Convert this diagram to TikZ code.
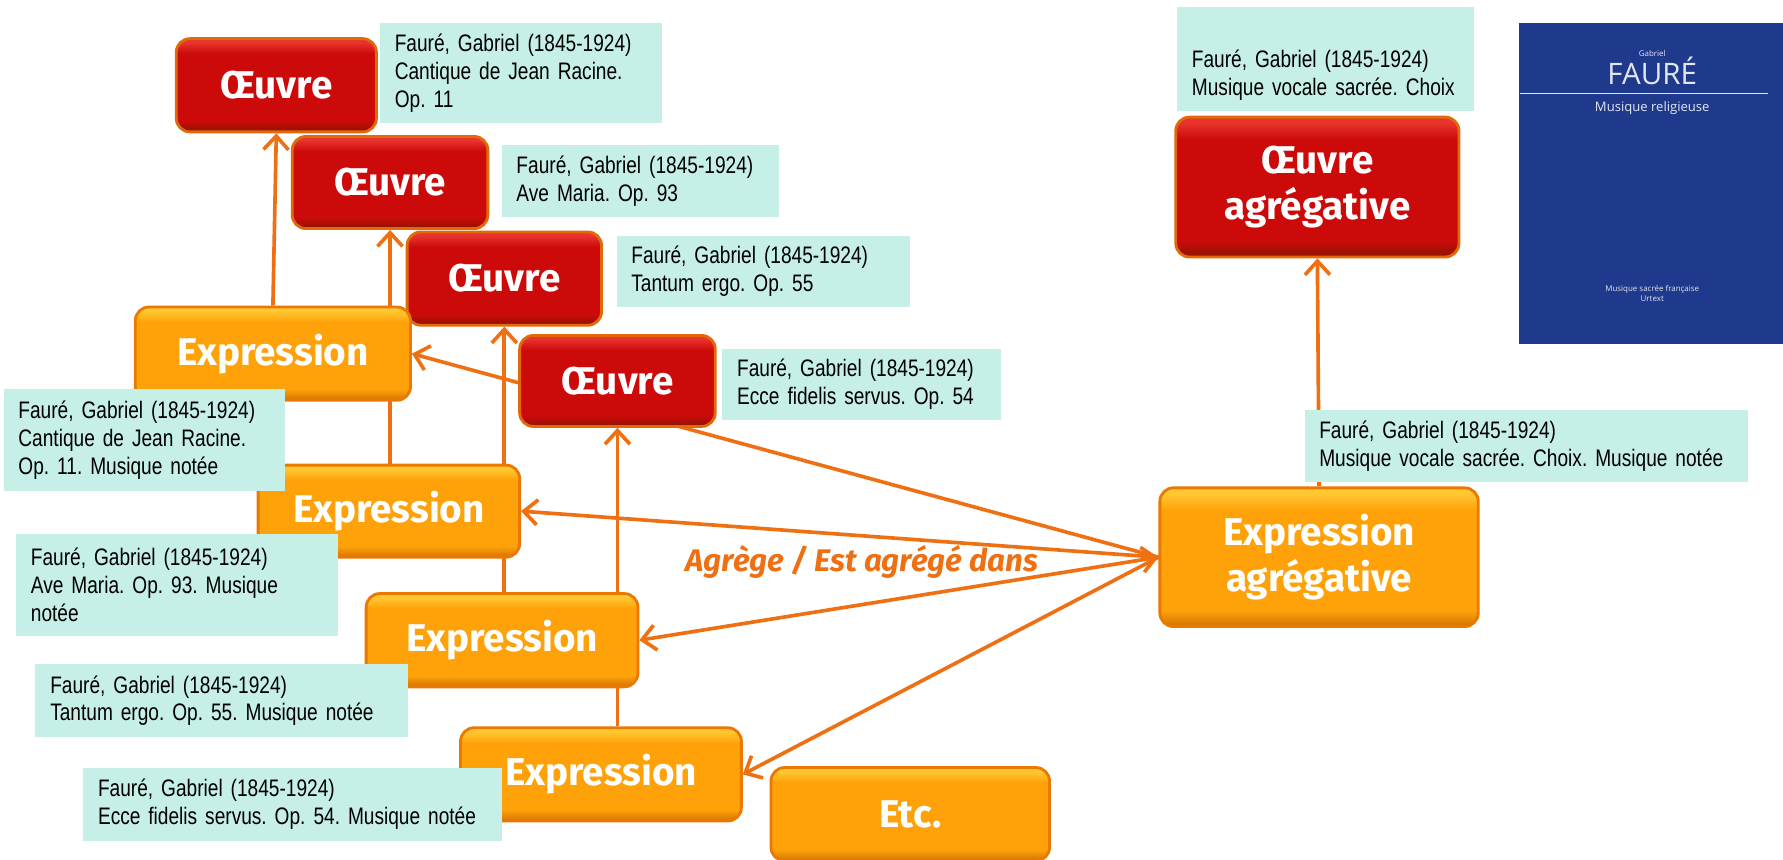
\documentclass[tikz,border=0pt]{standalone}
\usepackage{fontspec}
\setmainfont{Liberation Sans}
\newfontfamily\labfont[FakeStretch=0.80]{Liberation Sans}
\newfontfamily\boxfont{Fira Sans}
\newfontfamily\bookfont{Open Sans}
\usetikzlibrary{arrows.meta,backgrounds}
\frenchspacing
\definecolor{connC}{RGB}{238,112,18}
\definecolor{labC}{RGB}{198,239,231}
\definecolor{redM}{RGB}{204,10,10}
\definecolor{redL}{RGB}{232,52,45}
\definecolor{redD}{RGB}{140,20,0}
\definecolor{redO}{RGB}{225,105,10}
\definecolor{orM}{RGB}{255,162,10}
\definecolor{orL}{RGB}{255,200,50}
\definecolor{orD}{RGB}{210,115,0}
\definecolor{orO}{RGB}{235,120,0}
\definecolor{bookC}{RGB}{31,57,140}
\definecolor{bookT}{RGB}{225,230,240}
\pgfdeclareverticalshading{redsh}{100bp}{color(0bp)=(redD); color(25bp)=(redD); color(31bp)=(redM); color(67bp)=(redM); color(73bp)=(redL); color(100bp)=(redL)}
\pgfdeclareverticalshading{orsh}{100bp}{color(0bp)=(orD); color(25bp)=(orD); color(31bp)=(orM); color(67bp)=(orM); color(73bp)=(orL); color(100bp)=(orL)}
\newcommand\labline[1]{\mbox{#1}}
\tikzset{
  conn/.style={draw=connC, line width=3.2pt},
  arr/.style={-{Straight Barb[length=12pt,width=22pt]}},
  darr/.style={{Straight Barb[length=12pt,width=22pt]}-{Straight Barb[length=12pt,width=22pt]}},
  boxbase/.style={rounded corners=12pt, line width=2.5pt, inner sep=0pt, text=white,
    align=center, font=\boxfont\bfseries\fontsize{34}{40}\selectfont},
  oeuvrebox/.style={boxbase, shade, shading=redsh, draw=redO},
  exprbox/.style={boxbase, shade, shading=orsh, draw=orO},
  lab/.style={fill=labC, anchor=north west, inner xsep=13pt, inner ysep=0pt, align=left,
    font=\labfont\fontsize{21}{24.5}\selectfont\frenchspacing, text=black},
  booktxt/.style={text=bookT, inner sep=0pt, anchor=base},
  agrlab/.style={text=connC, font=\boxfont\bfseries\itshape\fontsize{27.5}{30}\selectfont}
}
\begin{document}
\begin{tikzpicture}[x=1pt,y=-1pt]
\useasboundingbox (0,0) rectangle (1568,756);
% boxes
\node[oeuvrebox, minimum width=176pt, minimum height=82pt] (o1) at (243,75) {Œuvre};
\node[oeuvrebox, minimum width=172pt, minimum height=81pt] (o2) at (343,160.5) {Œuvre};
\node[oeuvrebox, minimum width=171pt, minimum height=82pt] (o3) at (443.5,245) {Œuvre};
\node[oeuvrebox, minimum width=172pt, minimum height=80pt] (o4) at (543,335) {Œuvre};
\node[exprbox, minimum width=242pt, minimum height=82pt] (e1) at (240,311) {Expression};
\node[exprbox, minimum width=230pt, minimum height=81pt] (e2) at (342,449.5) {Expression};
\node[exprbox, minimum width=239pt, minimum height=82pt] (e3) at (441.5,563) {Expression};
\node[exprbox, minimum width=247pt, minimum height=82pt] (e4) at (528.5,681) {Expression};
\node[exprbox, minimum width=245pt, minimum height=82pt] (etc) at (800.5,716) {Etc.};
\node[exprbox, minimum width=280pt, minimum height=122pt] (ea) at (1160,490) {Expression\\agrégative};
\node[oeuvrebox, minimum width=249pt, minimum height=123pt] (oa) at (1158.5,164.5) {Œuvre\\agrégative};
% connectors behind the boxes
\begin{pgfonlayer}{background}
\draw[conn,arr] (e1.north) -- (o1.south);
\draw[conn,arr] (o2.south |- e2.north) -- (o2.south);
\draw[conn,arr] (o3.south |- e3.north) -- (o3.south);
\draw[conn,arr] (o4.south |- e4.north) -- (o4.south);
\draw[conn,arr] (ea.north) -- (oa.south);
\draw[conn,arr] (ea.west) -- (e1.east);
\draw[conn,arr] (ea.west) -- (e2.east);
\draw[conn,darr] (ea.west) -- (e3.east);
\draw[conn,arr] (ea.west) -- (e4.east);
\end{pgfonlayer}
\node[agrlab] (agr) at (758,494) {Agrège / Est agrégé dans};
% labels
\node[lab, text width=222pt, minimum height=88pt] (l1) at (334,20) {\labline{Fauré, Gabriel (1845-1924)}\\\labline{Cantique de Jean Racine.}\\Op. 11};
\node[lab, text width=218pt, minimum height=64pt] (l2) at (441,127) {\labline{Fauré, Gabriel (1845-1924)}\\\labline{Ave Maria. Op. 93}};
\node[lab, text width=232pt, minimum height=63pt] (l3) at (542,207) {\labline{Fauré, Gabriel (1845-1924)}\\\labline{Tantum ergo. Op. 55}};
\node[lab, text width=219pt, minimum height=62pt] (l4) at (635,307) {\labline{Fauré, Gabriel (1845-1924)}\\\labline{Ecce fidelis servus. Op. 54}};
\node[lab, text width=221pt, minimum height=90pt] (l5) at (3,342) {\labline{Fauré, Gabriel (1845-1924)}\\\labline{Cantique de Jean Racine.}\\\labline{Op. 11. Musique notée}};
\node[lab, text width=257pt, minimum height=90pt] (l6) at (14,469) {\labline{Fauré, Gabriel (1845-1924)}\\\labline{Ave Maria. Op. 93. Musique}\\notée};
\node[lab, text width=302pt, minimum height=64pt] (l7) at (31,584) {\labline{Fauré, Gabriel (1845-1924)}\\\labline{Tantum ergo. Op. 55. Musique notée}};
\node[lab, text width=342pt, minimum height=64pt] (l8) at (73,675) {\labline{Fauré, Gabriel (1845-1924)}\\\labline{Ecce fidelis servus. Op. 54. Musique notée}};
\node[lab, text width=364pt, minimum height=64pt] (l9) at (1147,360) {\labline{Fauré, Gabriel (1845-1924)}\\\labline{Musique vocale sacrée. Choix. Musique notée}};
\node[lab, text width=235pt, minimum height=91pt] (l10) at (1035,6) {\rule{0pt}{45pt}\labline{Fauré, Gabriel (1845-1924)}\\\labline{Musique vocale sacrée. Choix}};
% book cover
\node[fill=bookC, anchor=north west, inner sep=0pt, minimum width=232pt, minimum height=282pt] (book) at (1336,20) {};
\node[booktxt, font=\bookfont\fontsize{7}{8}\selectfont] (bk1) at (1453,50) {Gabriel};
\node[booktxt, font=\bookfont\fontsize{26}{28}\selectfont] (bk2) at (1453,74) {FAURÉ};
\draw[bookT, line width=1.3pt] (1337,82) -- (1555,82);
\node[booktxt, font=\bookfont\fontsize{11.5}{13}\selectfont] (bk3) at (1453,98) {Musique religieuse};
\node[booktxt, font=\bookfont\fontsize{7}{8}\selectfont] (bk4) at (1453,256) {Musique sacrée française};
\node[booktxt, font=\bookfont\fontsize{7}{8}\selectfont] (bk5) at (1453,265) {Urtext};
\end{tikzpicture}
\end{document}
